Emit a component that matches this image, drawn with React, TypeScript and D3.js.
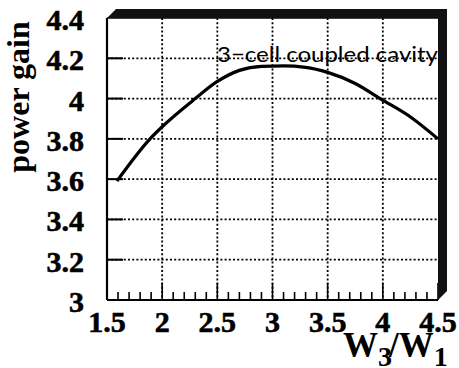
import * as d3 from "d3";

const W = 459;
const H = 368;

// power gain vs W3/W1
const ratio = [1.59, 1.89, 2.0, 2.3, 2.5, 2.7, 2.9, 3.1, 3.3, 3.5, 3.75, 3.975, 4.26, 4.5];
const gain = [3.59, 3.8, 3.86, 4.0, 4.085, 4.14, 4.16, 4.162, 4.155, 4.13, 4.075, 4.0, 3.905, 3.8];

const xTicks = [1.5, 2, 2.5, 3, 3.5, 4, 4.5];
const xTickLabels = ["1.5", "2", "2.5", "3", "3.5", "4", "4.5"];
const yTicks = [3, 3.2, 3.4, 3.6, 3.8, 4, 4.2, 4.4];
const yTickLabels = ["3", "3.2", "3.4", "3.6", "3.8", "4", "4.2", "4.4"];

const annotation = "3\u2212cell coupled cavity";

const serif = "Liberation Serif, Times New Roman, DejaVu Serif, serif";

export default function App() {
  const left = 107;
  const right = 438;
  const top = 18;
  const bottom = 300;
  const shadow = 9;

  const x = d3.scaleLinear().domain([1.5, 4.5]).range([left, right]);
  const y = d3.scaleLinear().domain([3, 4.4]).range([bottom, top]);

  const pts: [number, number][] = ratio.map((r, i) => [r, gain[i]]);
  const line = d3
    .line<[number, number]>()
    .x((d) => x(d[0]))
    .y((d) => y(d[1]))
    .curve(d3.curveMonotoneX);

  const minor = d3.range(15, 46).map((v) => v / 10);

  // box shadow along top and right edge
  const frame = [
    [left, top],
    [left + shadow, top - shadow],
    [right + shadow, top - shadow],
    [right + shadow, bottom - shadow],
    [right, bottom],
    [right, top],
  ]
    .map((p) => p.join(","))
    .join(" ");

  return (
    <svg
      width={W}
      height={H}
      style={{ position: "absolute", left: 0, top: 0, background: "#fff" }}
    >
      {/* grid */}
      {xTicks.slice(1, -1).map((t) => (
        <line
          key={"gx" + t}
          x1={x(t)}
          x2={x(t)}
          y1={top}
          y2={bottom}
          stroke="#000"
          strokeWidth={1.8}
          strokeDasharray="2,2.2"
        />
      ))}
      {yTicks.slice(1, -1).map((t) => (
        <line
          key={"gy" + t}
          x1={left}
          x2={right}
          y1={y(t)}
          y2={y(t)}
          stroke="#000"
          strokeWidth={1.8}
          strokeDasharray="2,2.2"
        />
      ))}

      {/* ticks */}
      {minor.map((t) => {
        const major = Math.abs(t * 2 - Math.round(t * 2)) < 1e-6;
        return (
          <line
            key={"mx" + t}
            x1={x(t)}
            x2={x(t)}
            y1={bottom}
            y2={bottom - (major ? 17 : 8)}
            stroke="#000"
            strokeWidth={1.6}
          />
        );
      })}
      {yTicks.slice(1, -1).map((t) => (
        <line
          key={"ty" + t}
          x1={left}
          x2={left + 16}
          y1={y(t)}
          y2={y(t)}
          stroke="#000"
          strokeWidth={2}
        />
      ))}

      {/* axes and frame */}
      <line x1={left} x2={left} y1={top} y2={bottom} stroke="#000" strokeWidth={2.2} />
      <line x1={left} x2={right} y1={bottom} y2={bottom} stroke="#000" strokeWidth={2.2} />
      <line x1={left} x2={right} y1={top} y2={top} stroke="#000" strokeWidth={1.5} />
      <polygon points={frame} fill="#111" />

      {/* curve */}
      <path d={line(pts) || ""} fill="none" stroke="#000" strokeWidth={3.2} strokeLinejoin="round" />

      <text
        x={217}
        y={62}
        fontFamily="Lato, 'Open Sans', sans-serif"
        fontWeight={400}
        fontSize={22}
        textLength={221}
        lengthAdjust="spacingAndGlyphs"
        fill="#000"
      >
        {annotation}
      </text>

      {/* tick labels */}
      {xTicks.map((t, i) => (
        <text
          key={"lx" + t}
          x={x(t)}
          y={332}
          textAnchor="middle"
          fontFamily={serif}
          fontWeight="bold"
          fontSize={30}
          stroke="#000"
          strokeWidth={0.6}
          fill="#000"
        >
          {xTickLabels[i]}
        </text>
      ))}
      {yTicks.map((t, i) => (
        <text
          key={"ly" + t}
          x={84}
          y={y(t) + 12}
          textAnchor="end"
          fontFamily={serif}
          fontWeight="bold"
          fontSize={30}
          stroke="#000"
          strokeWidth={0.6}
          fill="#000"
        >
          {yTickLabels[i]}
        </text>
      ))}

      {/* axis titles */}
      <text
        transform="translate(29,97) rotate(-90)"
        textAnchor="middle"
        fontFamily={serif}
        fontWeight="bold"
        fontSize={32}
        fill="#000"
      >
        power gain
      </text>
      <text x={343} y={357} fontFamily={serif} fontWeight="bold" fontSize={35} fill="#000">
        W
        <tspan fontSize={28} dy={9}>3</tspan>
        <tspan dy={-9} dx={-3}>/W</tspan>
        <tspan fontSize={28} dy={9}>1</tspan>
      </text>
    </svg>
  );
}
